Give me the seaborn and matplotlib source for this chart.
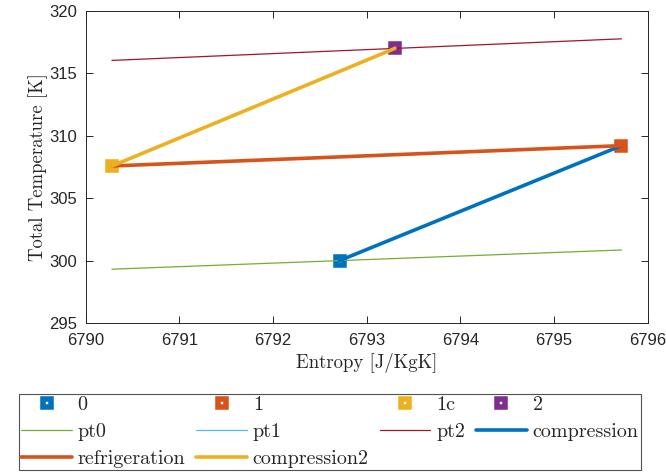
import matplotlib
matplotlib.use("Agg")
import matplotlib.pyplot as plt
import seaborn as sns
import pandas as pd

# State points (entropy [J/KgK], total temperature [K])
state_names = ["0", "1", "1c", "2"]
state_s = [6792.71, 6795.72, 6790.28, 6793.30]
state_T = [300.00, 309.21, 307.58, 317.00]

# Isobars through the state points
pt0_s = [6790.28, 6795.72]
pt0_T = [299.31, 300.85]
pt1_s = [6790.28, 6795.72]
pt1_T = [307.58, 309.21]
pt2_s = [6790.28, 6795.72]
pt2_T = [316.04, 317.77]

# Process paths
compression_s = [6792.71, 6795.72]
compression_T = [300.00, 309.21]
refrigeration_s = [6790.28, 6795.72]
refrigeration_T = [307.58, 309.21]
compression2_s = [6790.28, 6793.30]
compression2_T = [307.58, 317.00]

x_ticks = [6790, 6791, 6792, 6793, 6794, 6795, 6796]
y_ticks = [295, 300, 305, 310, 315, 320]

sns.set_theme(style="white")
plt.rcParams["font.family"] = ["Liberation Sans", "DejaVu Sans"]
SERIF = ["cmr10", "DejaVu Serif"]

state_colors = ["#0072BD", "#D95319", "#EDB120", "#7E2F8E"]

fig = plt.figure(figsize=(6.66, 4.74), dpi=100)
ax = fig.add_axes([0.1287, 0.3186, 0.8438, 0.6582])

handles = []
for name, s, T, c in zip(state_names, state_s, state_T, state_colors):
    df = pd.DataFrame({"s": [s], "T": [T]})
    sns.lineplot(data=df, x="s", y="T", ax=ax, color=c, marker="s",
                 markersize=6.0, markeredgewidth=4.0, markeredgecolor=c,
                 markerfacecolor="white", linestyle="none", zorder=3)
    handles.append((ax.lines[-1], name))

line_specs = [
    ("pt0", pt0_s, pt0_T, "#77AC30", 0.9),
    ("pt1", pt1_s, pt1_T, "#4DBEEE", 0.9),
    ("pt2", pt2_s, pt2_T, "#A2142F", 0.9),
    ("compression", compression_s, compression_T, "#0072BD", 2.6),
    ("refrigeration", refrigeration_s, refrigeration_T, "#D95319", 2.6),
    ("compression2", compression2_s, compression2_T, "#EDB120", 2.6),
]
for name, s, T, c, lw in line_specs:
    df = pd.DataFrame({"s": s, "T": T})
    sns.lineplot(data=df, x="s", y="T", ax=ax, color=c, linewidth=lw,
                 sort=False, zorder=4)
    handles.append((ax.lines[-1], name))

ax.set_xlim(6790, 6796)
ax.set_ylim(295, 320)
ax.set_xticks(x_ticks)
ax.set_yticks(y_ticks)
ax.set_xticklabels([str(v) for v in x_ticks])
ax.set_yticklabels([str(v) for v in y_ticks])
ax.tick_params(direction="in", length=5, width=0.7, color="#262626",
               labelsize=12, labelcolor="#262626", top=True, right=True,
               bottom=True, left=True)
ax.tick_params(axis="x", pad=7)
ax.tick_params(axis="y", pad=6)
for sp in ax.spines.values():
    sp.set_visible(True)
    sp.set_color("#262626")
    sp.set_linewidth(0.7)

ax.set_xlabel("Entropy [J/KgK]", fontsize=13.5, color="#262626",
              labelpad=4, family=SERIF)
ax.set_ylabel("Total Temperature [K]", fontsize=13.5,
              color="#262626", labelpad=1, family=SERIF)

# Row-wise legend order in a 4-column layout
order = [0, 4, 8, 1, 5, 9, 2, 6, 3, 7]
leg_h = [handles[i][0] for i in order]
leg_l = [handles[i][1] for i in order]
leg = fig.legend(leg_h, leg_l, loc="center", bbox_to_anchor=(330 / 666, 1 - 432 / 474),
                 ncol=4, prop={"family": SERIF, "size": 14.5}, frameon=True,
                 fancybox=False, edgecolor="#262626", handlelength=2.5,
                 handletextpad=0.3, columnspacing=0.55, labelspacing=0.42,
                 borderpad=0.12, borderaxespad=0)
leg.get_frame().set_linewidth(0.8)

fig.savefig("out.png", dpi=100)
